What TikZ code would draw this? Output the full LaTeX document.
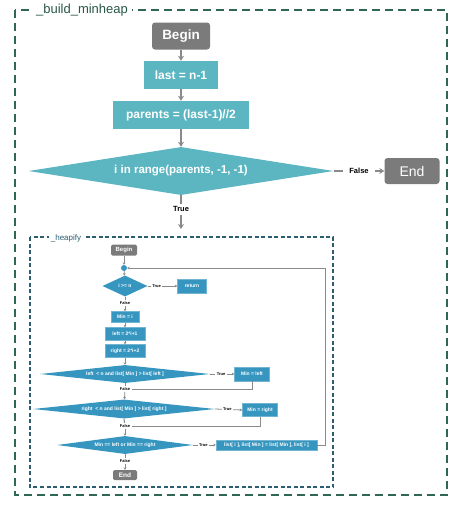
\documentclass[tikz,border=0pt]{standalone}
\usepackage{fontspec}
\setmainfont{Liberation Sans}
\usetikzlibrary{shapes.geometric,arrows.meta}
\definecolor{tealo}{HTML}{5BB6C1}
\definecolor{gbox}{HTML}{7B7B7B}
\definecolor{frameg}{HTML}{2F6656}
\definecolor{frameb}{HTML}{2C5E72}
\definecolor{iblue}{HTML}{3696C0}
\definecolor{lnc}{HTML}{8A8A8A}
\begin{document}
\begin{tikzpicture}[x=1pt,y=-1pt,
  obox/.style={fill=tealo, text=white, inner sep=0pt, font=\bfseries\fontsize{12}{14}\selectfont},
  ogray/.style={fill=gbox, text=white, rounded corners=3pt, inner sep=0pt},
  odia/.style={diamond, aspect=6, fill=tealo, text=white, inner sep=0pt, font=\bfseries\fontsize{11.5}{13}\selectfont},
  oarr/.style={draw=lnc, line width=2pt, -{Stealth[length=5pt,width=6pt]}},
  olbl/.style={fill=white, text=black, inner ysep=3pt, inner xsep=6pt, font=\bfseries\fontsize{7.5}{9}\selectfont},
  ibox/.style={fill=iblue, draw=iblue!70!white, line width=0.4pt, text=white, inner sep=0pt, font=\bfseries\fontsize{5}{6}\selectfont},
  igray/.style={fill=gbox, text=white, rounded corners=1.5pt, inner sep=0pt, font=\bfseries\fontsize{6}{7}\selectfont},
  idia/.style={diamond, aspect=8, fill=iblue, text=white, inner sep=0pt, font=\bfseries\fontsize{5}{6}\selectfont},
  iarr/.style={draw=lnc, line width=0.8pt, -{Stealth[length=2.5pt,width=2.8pt]}},
  iline/.style={draw=lnc, line width=1pt},
  ilbl/.style={fill=white, text=black, inner sep=1.5pt, font=\bfseries\fontsize{4}{5}\selectfont},
]
\useasboundingbox (0,0) rectangle (465,509);
% outer frame
\draw[frameg, line width=2.5pt, dash pattern=on 8pt off 5pt] (15,10) rectangle (447,495);
\node[fill=white, text=frameg!85!black, inner sep=4pt, font=\fontsize{13}{15}\selectfont] (oflab) at (82,10) {\_build\_minheap};
% outer nodes
\node[ogray, minimum width=58pt, minimum height=27pt, font=\bfseries\fontsize{13.5}{15}\selectfont] (ob) at (181,36) {Begin};
\node[obox, minimum width=74pt, minimum height=28pt] (olast) at (181,75) {last = n-1};
\node[obox, minimum width=136pt, minimum height=28pt] (opar) at (181,115) {parents = (last-1)//2};
\node[odia, minimum width=305pt, minimum height=48pt] (od) at (181,171) {i in range(parents, -1, -1)};
\node[ogray, minimum width=55pt, minimum height=26pt, font=\fontsize{14}{16}\selectfont] (oend) at (412,171) {End};
\coordinate (tin) at (181,229);
\draw[oarr] (ob) -- (olast);
\draw[oarr] (olast) -- (opar);
\draw[oarr] (opar) -- (od);
\draw[oarr] (od.east) -- node[olbl, pos=0.5] {False} (oend.west);
\draw[oarr] (od.south) -- node[olbl, pos=0.42] {True} (tin);
% inner frame
\draw[frameb, line width=1.3pt, dash pattern=on 4pt off 2.5pt] (30,237) rectangle (333,487);
\node[fill=white, text=frameb, inner sep=2pt, font=\fontsize{8}{9}\selectfont] (iflab) at (66,238) {\_heapify};
% inner nodes
\node[igray, minimum width=26pt, minimum height=11pt] (ib) at (124,250) {Begin};
\node[circle, fill=iblue, minimum size=6pt, inner sep=0pt] (dot) at (124,268) {};
\node[idia, aspect=2.2, minimum width=45pt, minimum height=21pt] (d1) at (125,286) {i >= n};
\node[ibox, minimum width=29pt, minimum height=14pt] (ret) at (192,286) {return};
\node[ibox, minimum width=28pt, minimum height=11pt] (bmin) at (125,317) {Min = i};
\node[ibox, minimum width=40pt, minimum height=13pt] (bleft) at (125,334) {left = 2*i+1};
\node[ibox, minimum width=40pt, minimum height=13pt] (bright) at (125,351) {right = 2*i+2};
\node[idia, minimum width=170pt, minimum height=18pt] (d2) at (125,374) {left \ < n and list[ Min ] > list[ left ]};
\node[ibox, minimum width=35pt, minimum height=14pt] (mleft) at (252,374) {Min = left};
\node[idia, minimum width=182pt, minimum height=19pt] (d3) at (124,409) {right \ < n and list[ Min ] > list[ right ]};
\node[ibox, minimum width=35pt, minimum height=13pt] (mright) at (260,410) {Min = right};
\node[idia, minimum width=136pt, minimum height=18pt] (d4) at (125,445) {Min == left or Min == right};
\node[ibox, minimum width=101pt, minimum height=10pt] (swap) at (266.5,445) {list[ i ], list[ Min ] = list[ Min ], list[ i ]};
\node[igray, minimum width=24pt, minimum height=10pt, font=\bfseries\fontsize{6.5}{7}\selectfont] (iend) at (125,475) {End};
% labels on vertical path
\node[ilbl] (f1) at (125,303) {False};
\node[ilbl] (f2) at (125,389) {False};
\node[ilbl] (f3) at (125,426) {False};
\node[ilbl] (f4) at (125,461) {False};
\coordinate (lp1) at (325,445);
\coordinate (lp2) at (325,268);
% inner connectors
\draw[iarr] (ib) -- (dot);
\draw[iarr] (dot) -- (d1);
\draw[iarr] (d1.east) -- node[ilbl, pos=0.3] {True} (ret.west);
\draw[iline] (d1.south) -- (f1);
\draw[iarr] (f1) -- (bmin);
\draw[iarr] (bmin) -- (bleft);
\draw[iarr] (bleft) -- (bright);
\draw[iarr] (bright) -- (d2);
\draw[iarr] (d2.east) -- node[ilbl, pos=0.45] {True} (mleft.west);
\draw[iline] (d2.south) -- (f2);
\draw[iline] (mleft.south) |- (f2.east);
\draw[iarr] (f2) -- (d3);
\draw[iarr] (d3.east) -- node[ilbl, pos=0.45] {True} (mright.west);
\draw[iline] (d3.south) -- (f3);
\draw[iline] (mright.south) |- (f3.east);
\draw[iarr] (f3) -- (d4);
\draw[iarr] (d4.east) -- node[ilbl, pos=0.45] {True} (swap.west);
\draw[iline] (d4.south) -- (f4);
\draw[iarr] (f4) -- (iend);
\draw[iarr] (swap.east) -- (lp1) -- (lp2) -- (dot.east);
\end{tikzpicture}
\end{document}
